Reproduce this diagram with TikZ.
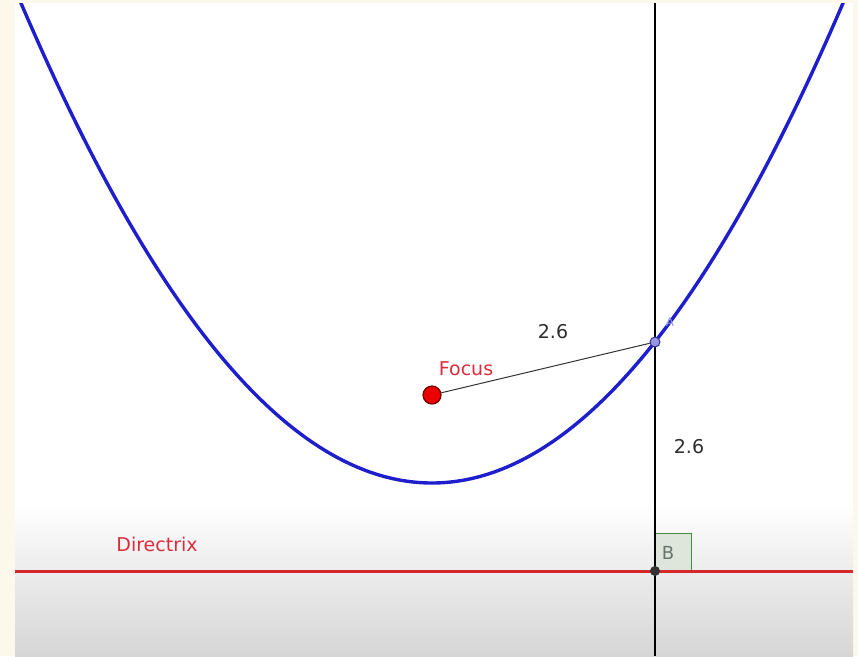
\documentclass[tikz,border=0pt]{standalone}
\usepackage{fontspec}
\setmainfont{DejaVu Sans}
\definecolor{cream}{RGB}{253,248,236}
\definecolor{parblue}{RGB}{30,30,205}
\definecolor{dirred}{RGB}{212,40,45}
\definecolor{labred}{RGB}{220,45,60}
\definecolor{focred}{RGB}{235,0,0}
\definecolor{focedge}{RGB}{110,0,0}
\definecolor{ptA}{RGB}{150,150,225}
\definecolor{ptAedge}{RGB}{50,50,140}
\definecolor{boxgreen}{RGB}{70,140,70}
\definecolor{boxfill}{RGB}{222,230,220}
\definecolor{gradA}{RGB}{236,236,236}
\definecolor{gradB}{RGB}{214,214,214}
\definecolor{txtgray}{RGB}{45,45,45}
\tikzset{
  lbl/.style={font=\fontsize{19}{22}\selectfont, inner sep=0pt, text=txtgray},
  redlbl/.style={lbl, text=labred},
  dot/.style={circle, inner sep=0pt},
}
\begin{document}
\begin{tikzpicture}[x=1pt,y=-1pt]
\useasboundingbox (0,0) rectangle (858,656);
% background
\fill[cream] (0,0) rectangle (858,656);
\fill[white] (15,3) rectangle (853,656);
\shade[top color=white, bottom color=gradA] (15,505) rectangle (853,571);
\shade[top color=gradA, bottom color=gradB] (15,571) rectangle (853,656);
% right-angle box
\draw[boxgreen, fill=boxfill, line width=1pt] (655,533) rectangle (691,571);
\node[font=\fontsize{18}{20}\selectfont, text={rgb,255:red,105;green,115;blue,105}, inner sep=0pt] (blbl) at (668,553) {B};
% vertical line
\coordinate (vtop) at (655,3);
\coordinate (vbot) at (655,656);
\draw[black, line width=1.2pt] (vtop) -- (vbot);
% directrix
\coordinate (dl) at (15,571);
\coordinate (dr) at (853,571);
\draw[dirred, line width=3pt] (dl) -- (dr);
% parabola
\begin{scope}
\clip (15,3) rectangle (853,656);
\draw[parblue, line width=3.4pt, domain=-4.75:4.75, samples=120, smooth] plot ({432+88*\x},{483-22*\x*\x});
\end{scope}
% points
\node[dot, minimum size=18pt, fill=focred, draw=focedge, line width=1.2pt] (F) at (432,395) {};
\node[dot, minimum size=10pt, fill=ptA, draw=ptAedge, line width=1pt] (A) at (655,342) {};
\node[dot, minimum size=10pt, fill={rgb,255:red,50;green,50;blue,50}] (B) at (655,571) {};
\draw[black!80, line width=1pt] (F) -- (A);
\node[font=\fontsize{12}{14}\selectfont, text=ptA] (alab) at (670,322) {A};
% labels
\node[lbl] (d1) at (553,332) {2.6};
\node[lbl] (d2) at (689,447) {2.6};
\node[redlbl] (flab) at (466,369) {Focus};
\node[redlbl] (dlab) at (157,544) {Directrix};
\end{tikzpicture}
\end{document}
